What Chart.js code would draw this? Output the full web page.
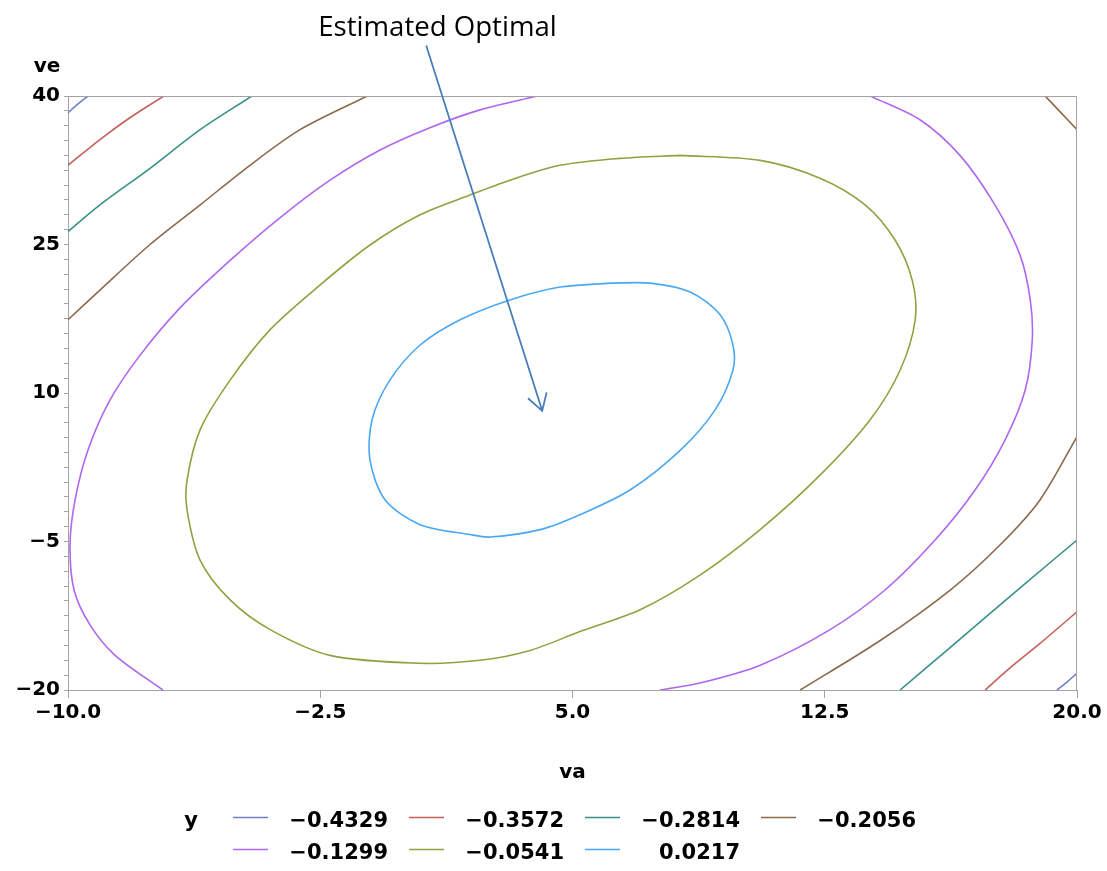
<!DOCTYPE html>
<html>
<head>
<meta charset="utf-8">
<script src="https://cdn.jsdelivr.net/npm/chart.js@4/dist/chart.umd.min.js"></script>
<style>
html, body { margin: 0; padding: 0; background: #fff; }
</style>
</head>
<body>
<canvas id="contourChart" width="1107" height="871"></canvas>
<script>

/***** contour levels of y and their colours *****/
const levels = ['\u22120.4329', '\u22120.3572', '\u22120.2814', '\u22120.2056', '\u22120.1299', '\u22120.0541', '0.0217'];
const levelColors = ['#6f7fc6', '#c4625a', '#3a9088', '#8b6a4b', '#b066ee', '#93a040', '#4aa8f2'];

const c4329 = [[-10, 38.3], [-9.7, 39.2], [-9.4, 40], null,
               [19.4, -20], [19.7, -19.2], [20, -18.3]];
const c3572 = [[-10, 33.0], [-9.05, 35.6], [-8.16, 37.8], [-7.15, 40], null,
               [17.27, -20], [18.0, -17.8], [18.9, -15.3], [20, -12.1]];
const c2814 = [[-10, 26.3], [-9.05, 29.0], [-7.56, 32.7], [-6.07, 36.6], [-4.53, 40], null,
               [14.74, -20], [16.2, -15.8], [18.3, -9.7], [20, -4.85]];
const c2056 = [[-10, 17.4], [-9.05, 20.4], [-7.56, 25.0], [-6.07, 29.0], [-4.59, 33.0], [-3.1, 36.6], [-1.1, 40], null,
               [19.05, 40], [19.5, 38.4], [20, 36.6], null,
               [11.77, -20], [14.15, -15.0], [16.23, -9.9], [17.71, -5.35], [18.9, -0.8], [20, 5.6]];
const c1299 = [[3.95, 40], [2.25, 38.6], [0.76, 36.8], [-0.72, 34.55], [-2.21, 31.5], [-3.7, 27.7],
               [-5.18, 23.4], [-6.67, 18.6], [-7.86, 13.8], [-8.75, 9.3], [-9.41, 4.2], [-9.79, -0.8],
               [-9.94, -5.35], [-9.82, -9.9], [-9.35, -13.4], [-8.6, -16.5], [-7.18, -20], null,
               [13.85, 40], [15.33, 37.6], [16.52, 34.0], [17.56, 29.0], [18.31, 23.9], [18.61, 19.4],
               [18.67, 15.35], [18.46, 10.3], [17.86, 5.25], [16.97, 0.2], [15.78, -4.85], [14.29, -9.9],
               [12.66, -13.9], [10.58, -17.5], [8.79, -19.3], [7.6, -20]];
const c0541 = [[8.2, 34.0], [6.41, 33.7], [4.63, 33.0], [3.14, 31.5], [1.95, 30.0], [0.47, 28.0],
               [-1.02, 24.95], [-2.51, 20.9], [-3.99, 16.4], [-5.18, 11.3], [-6.07, 6.3], [-6.46, 1.2],
               [-6.46, -1.8], [-6.07, -6.9], [-5.18, -10.9], [-3.99, -13.9], [-2.21, -16.5], [0.47, -17.3],
               [2.25, -17.0], [3.74, -16.0], [5.22, -14.1], [7.01, -11.9], [8.79, -8.4], [10.58, -3.8],
               [12.36, 1.7], [13.85, 7.3], [14.74, 12.3], [15.19, 17.4], [15.1, 21.4], [14.59, 25.45],
               [13.7, 29.0], [12.36, 31.7], [10.58, 33.5], [8.2, 34.0]];
const c0217 = [[6.12, 21.1], [4.63, 20.7], [3.14, 19.4], [1.66, 17.4], [0.47, 14.85], [-0.43, 11.3],
               [-0.96, 7.3], [-1.02, 3.2], [-0.57, -0.8], [0.47, -3.3], [1.95, -4.3], [2.55, -4.55],
               [4.04, -3.8], [5.22, -2.3], [6.71, 0.2], [8.2, 4.2], [9.24, 8.3], [9.77, 12.3],
               [9.77, 14.85], [9.39, 17.9], [8.5, 20.2], [7.31, 21.1], [6.12, 21.1]];
const contours = [c4329, c3572, c2814, c2056, c1299, c0541, c0217];

/***** axes *****/
const vaMin = -10, vaMax = 20, vaStep = 7.5;
const veMin = -20, veMax = 40, veStep = 15, veMinorStep = 1.5;

/***** annotation *****/
const noteText = 'Estimated Optimal';
const arrowTail = [0.65, 45.1];
const arrowTip = [4.1, 8.2];

const AXIS_GREY = '#a3a3a3';
const TICK_FONT = { family: '"DejaVu Sans"', size: 20, weight: 'bold' };

function fmt(v, d) {
    return (v < -1e-9 ? '\u2212' : '') + Math.abs(v).toFixed(d);
}

function toPoints(arr) {
    return arr.map(p => p === null ? { x: null, y: null } : { x: p[0], y: p[1] });
}

const datasets = contours.map((c, i) => ({
    label: levels[i],
    data: toPoints(c),
    showLine: true,
    spanGaps: false,
    borderColor: levelColors[i],
    backgroundColor: levelColors[i],
    borderWidth: 1.6,
    pointRadius: 0,
    tension: 0.3
}));

/***** frame, arrow, labels and legend *****/
const extras = {
    id: 'extras',
    afterDraw(chart) {
        const { ctx, chartArea: a, scales: { x, y } } = chart;
        ctx.save();

        // top and right border of the plot
        ctx.strokeStyle = AXIS_GREY;
        ctx.lineWidth = 1;
        ctx.beginPath();
        ctx.moveTo(a.left, a.top + 0.5);
        ctx.lineTo(a.right - 0.5, a.top + 0.5);
        ctx.lineTo(a.right - 0.5, a.bottom);
        ctx.stroke();

        // ve title
        ctx.fillStyle = '#000';
        ctx.font = 'bold 20px "DejaVu Sans"';
        ctx.textAlign = 'center';
        ctx.textBaseline = 'middle';
        ctx.fillText('ve', 47, 67);

        // arrow
        const tx = x.getPixelForValue(arrowTail[0]), ty = y.getPixelForValue(arrowTail[1]);
        const hx = x.getPixelForValue(arrowTip[0]), hy = y.getPixelForValue(arrowTip[1]);
        ctx.strokeStyle = '#4a7ebb';
        ctx.lineWidth = 1.8;
        ctx.beginPath();
        ctx.moveTo(tx, ty);
        ctx.lineTo(hx, hy);
        const ang = Math.atan2(ty - hy, tx - hx);
        const barb = 19, spread = 31 * Math.PI / 180;
        ctx.moveTo(hx + barb * Math.cos(ang - spread), hy + barb * Math.sin(ang - spread));
        ctx.lineTo(hx, hy);
        ctx.lineTo(hx + barb * Math.cos(ang + spread), hy + barb * Math.sin(ang + spread));
        ctx.stroke();

        // note text
        ctx.font = '100px "Open Sans"';
        const size = 100 * 239 / ctx.measureText(noteText).width;
        ctx.font = size.toFixed(1) + 'px "Open Sans"';
        ctx.textBaseline = 'alphabetic';
        ctx.fillText(noteText, 437.5, 36);

        // legend
        ctx.font = 'bold 21px "DejaVu Sans"';
        ctx.textBaseline = 'middle';
        ctx.textAlign = 'center';
        ctx.fillText('y', 191, 822);
        ctx.textAlign = 'right';
        levels.forEach((lv, i) => {
            const col = i % 4, row = Math.floor(i / 4);
            const x0 = 233 + col * 176;
            const ly = 817.5 + row * 32;
            ctx.strokeStyle = levelColors[i];
            ctx.lineWidth = 1.6;
            ctx.beginPath();
            ctx.moveTo(x0, ly);
            ctx.lineTo(x0 + 35, ly);
            ctx.stroke();
            ctx.fillText(lv, x0 + 155, 822 + row * 32);
        });

        ctx.restore();
    }
};

new Chart(document.getElementById('contourChart'), {
    type: 'scatter',
    data: { datasets: datasets },
    options: {
        responsive: false,
        animation: false,
        devicePixelRatio: 1,
        layout: { padding: { top: 96, right: 30, bottom: 80, left: 0 } },
        plugins: {
            legend: { display: false },
            tooltip: { enabled: false }
        },
        scales: {
            x: {
                type: 'linear',
                min: vaMin,
                max: vaMax,
                afterFit: s => { s.height = 101; },
                ticks: {
                    stepSize: vaStep,
                    color: '#000',
                    font: TICK_FONT,
                    padding: 3,
                    maxRotation: 0,
                    callback: v => fmt(v, 1)
                },
                grid: { drawOnChartArea: false, drawTicks: true, tickLength: 8, color: AXIS_GREY },
                border: { color: AXIS_GREY, width: 1 },
                title: {
                    display: true,
                    text: 'va',
                    color: '#000',
                    font: { family: '"DejaVu Sans"', size: 20, weight: 'bold' },
                    padding: { top: 0, bottom: 6 }
                }
            },
            y: {
                type: 'linear',
                min: veMin,
                max: veMax,
                afterFit: s => { s.width = 68; },
                // a minor tick every 1.5, labels only on the majors (-20, -5, 10, 25, 40)
                afterBuildTicks: s => {
                    const n = Math.round((veMax - veMin) / veMinorStep);
                    const t = [];
                    for (let j = 0; j <= n; j++) t.push({ value: Math.round((veMin + j * veMinorStep) * 10) / 10 });
                    s.ticks = t;
                },
                ticks: {
                    autoSkip: false,
                    color: '#000',
                    font: TICK_FONT,
                    padding: 4,
                    callback: v => (Math.round((v - veMin) * 10) % (veStep * 10) === 0 ? fmt(v, 0) : '')
                },
                grid: { drawOnChartArea: false, drawTicks: true, tickLength: 4, color: AXIS_GREY },
                border: { color: AXIS_GREY, width: 1 }
            }
        }
    },
    plugins: [extras]
});
</script>
</body>
</html>
